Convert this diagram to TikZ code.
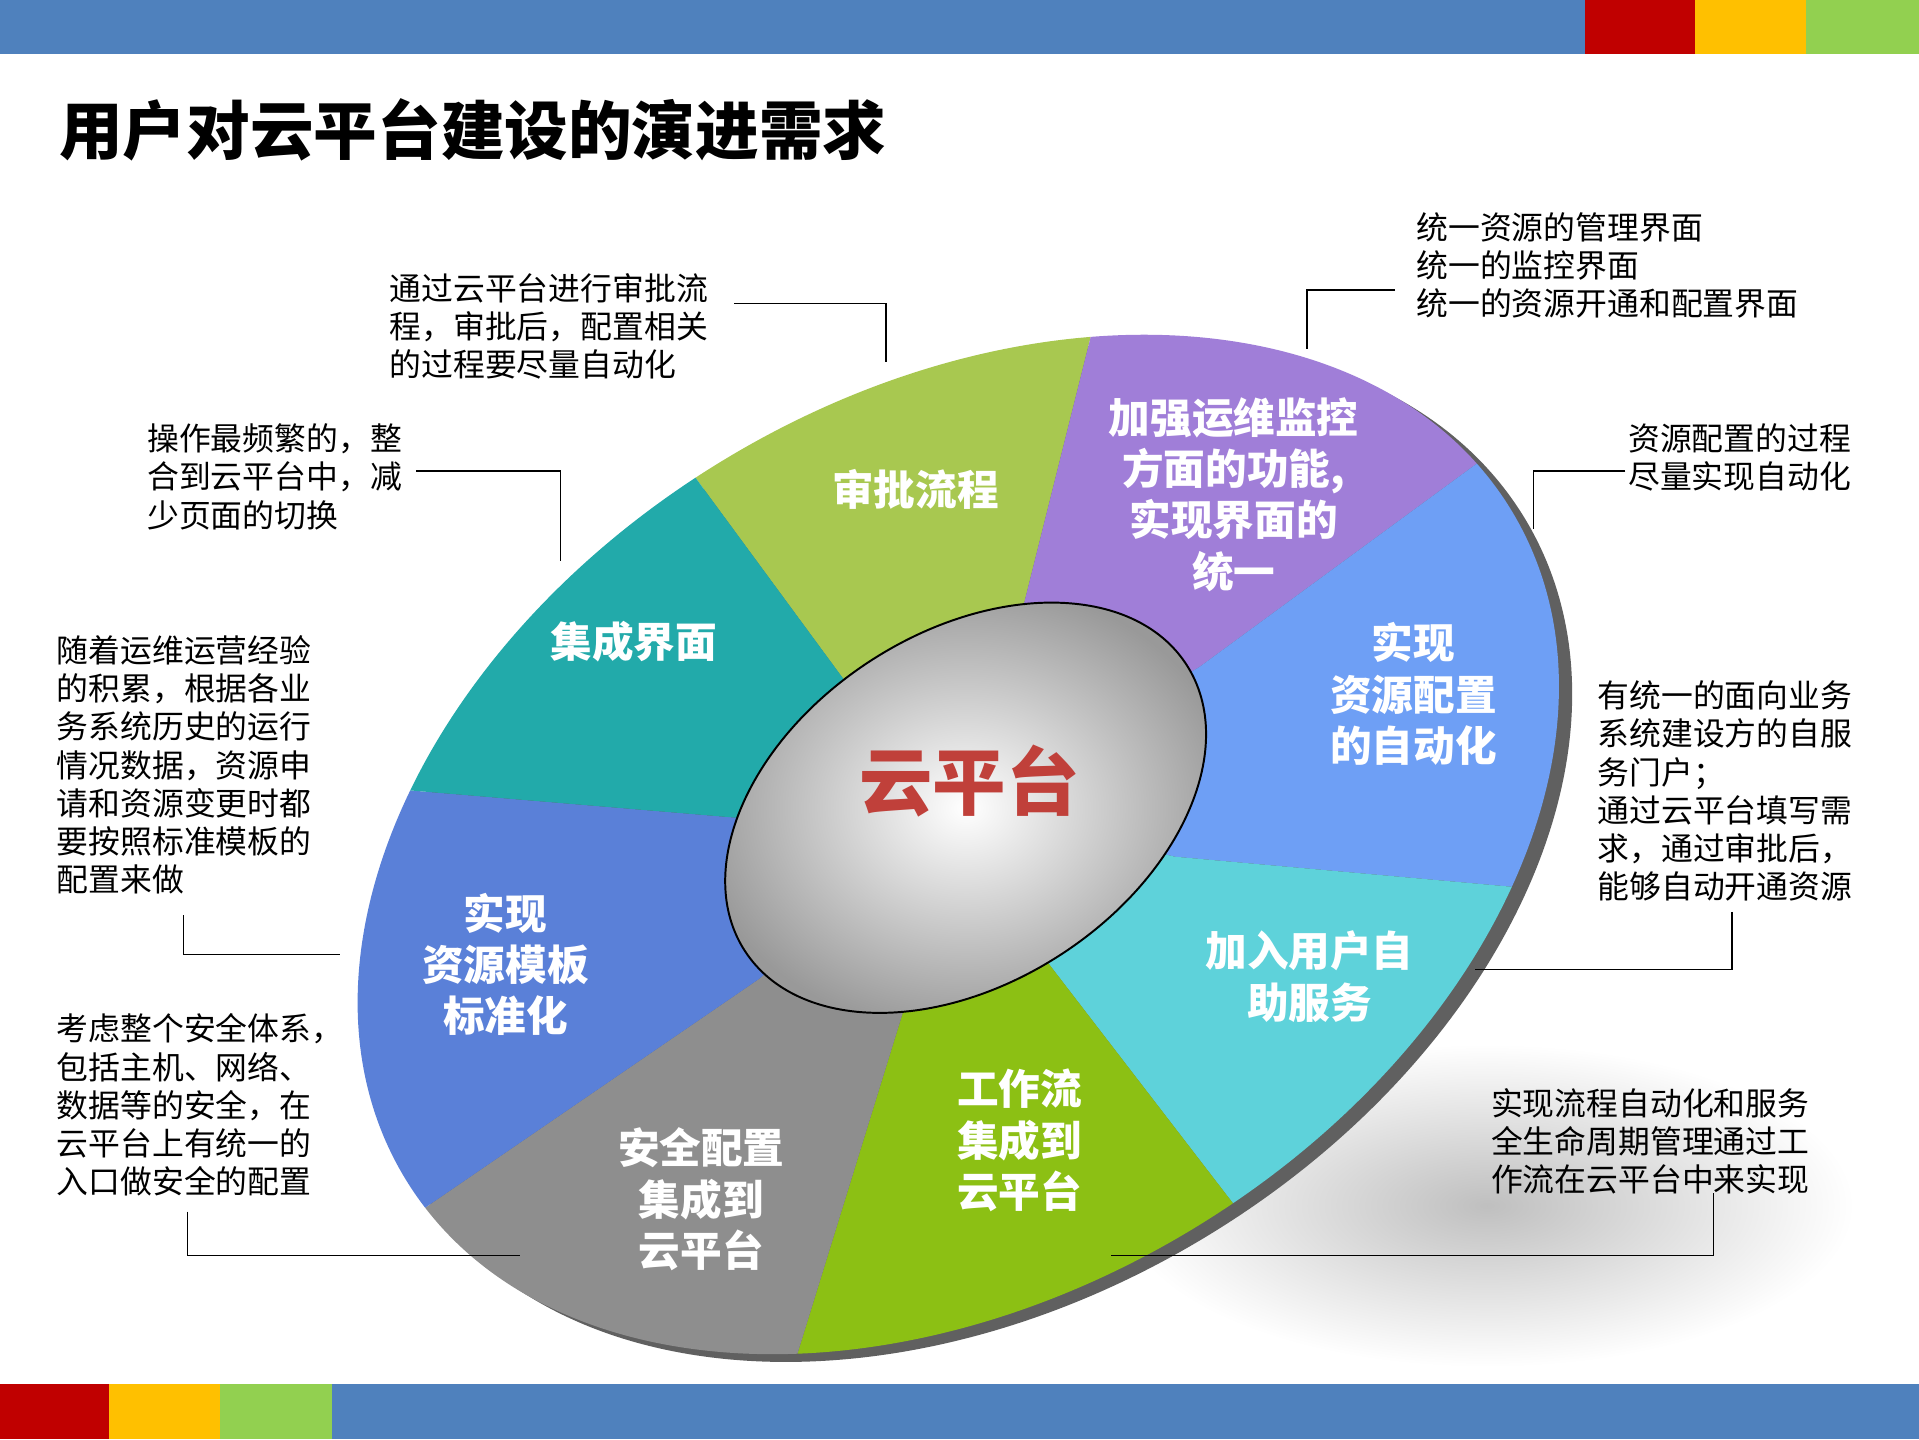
\documentclass[tikz,border=0pt]{standalone}
\usepackage{fontspec}
\setmainfont{Noto Sans CJK SC}
\usetikzlibrary{calc}
\definecolor{barblue}{HTML}{4F81BD}
\definecolor{barred}{HTML}{C00000}
\definecolor{baryel}{HTML}{FFC000}
\definecolor{bargreen}{HTML}{92D050}
\definecolor{cA}{HTML}{A8C850}
\definecolor{cB}{HTML}{A07ED8}
\definecolor{cC}{HTML}{6E9FF5}
\definecolor{cD}{HTML}{5ED2DA}
\definecolor{cE}{HTML}{8CC014}
\definecolor{cF}{HTML}{8E8E8E}
\definecolor{cG}{HTML}{5A80D8}
\definecolor{cH}{HTML}{22AAAA}
\definecolor{yun}{HTML}{C0403A}
\begin{document}
\begin{tikzpicture}[x=0.5pt,y=-0.5pt,
  captext/.style={anchor=north west,inner sep=0pt,align=left,font=\fontsize{13pt}{15.6pt}\selectfont},
  seg/.style={align=center,text=white,inner sep=0pt,font=\bfseries\fontsize{17pt}{21pt}\selectfont},
  lead/.style={draw=black,line width=0.6pt}]
\useasboundingbox (0,0) rectangle (1568,1176);
\fill[white] (0,0) rectangle (1568,1176);
% bars
\fill[barblue] (0,0) rectangle (1295,44);
\fill[barred] (1295,0) rectangle (1385,44);
\fill[baryel] (1385,0) rectangle (1476,44);
\fill[bargreen] (1476,0) rectangle (1568,44);
\fill[barred] (0,1131) rectangle (89,1176);
\fill[baryel] (89,1131) rectangle (180,1176);
\fill[bargreen] (180,1131) rectangle (271,1176);
\fill[barblue] (271,1131) rectangle (1568,1176);
\node[anchor=west,inner sep=0pt,font=\bfseries\fontsize{26pt}{30pt}\selectfont] (title) at (48,106) {用户对云平台建设的演进需求};
% shadow
\shade[inner color=gray!50,outer color=white] (1215,985) ellipse [x radius=150pt,y radius=66pt];
% extrusion
\coordinate (c) at (783,690);
\fill[gray!75!black,rotate around={31:($(c)+(6,11)$)}] ($(c)+(6,11)$) ellipse [x radius=264pt,y radius=184pt];
% wedges
\coordinate (ic) at (789,660);
\coordinate (i1) at (835,500); \coordinate (o1) at (890,280);
\coordinate (i2) at (980,545); \coordinate (o2) at (1205,380);
\coordinate (i3) at (960,700); \coordinate (o3) at (1240,725);
\coordinate (i4) at (855,785); \coordinate (o4) at (1005,980);
\coordinate (i5) at (740,820); \coordinate (o5) at (655,1095);
\coordinate (i6) at (620,800); \coordinate (o6) at (350,985);
\coordinate (i7) at (600,668); \coordinate (o7) at (325,645);
\coordinate (i8) at (693,560); \coordinate (o8) at (568,390);
\begin{scope}
\clip[rotate around={31:(c)}] (c) ellipse [x radius=264pt,y radius=184pt];
\foreach \a/\b/\col in {8/1/cA,1/2/cB,2/3/cC,3/4/cD,4/5/cE,5/6/cF,6/7/cG,7/8/cH}{
  \fill[\col] (ic) -- (i\a) -- ($(i\a)!4!(o\a)$) -- ($(i\b)!4!(o\b)$) -- (i\b) -- cycle;
}
\end{scope}
% inner ellipse
\coordinate (ci) at (789,660);
\shade[inner color=white,outer color=gray!80,rotate around={33:(ci)}] (ci) ellipse [x radius=107.5pt,y radius=71.5pt];
\draw[black,line width=0.8pt,rotate around={33:(ci)}] (ci) ellipse [x radius=107.5pt,y radius=71.5pt];
\node[text=yun,font=\bfseries\fontsize{30pt}{34pt}\selectfont,inner sep=0pt] (yun) at (792,638) {云平台};
% segment labels
\node[seg] (sA) at (748,400) {审批流程};
\node[seg] (sB) at (1008,404) {加强运维监控\\方面的功能,\\实现界面的\\统一};
\node[seg] (sC) at (1155,567) {实现\\资源配置\\的自动化};
\node[seg] (sD) at (1070,798) {加入用户自\\助服务};
\node[seg] (sE) at (833,932) {工作流\\集成到\\云平台};
\node[seg] (sF) at (573,980) {安全配置\\集成到\\云平台};
\node[seg] (sG) at (413,788) {实现\\资源模板\\标准化};
\node[seg] (sH) at (518,524) {集成界面};
% captions
\node[captext] (tA) at (318,223) {通过云平台进行审批流\\程，审批后，配置相关\\的过程要尽量自动化};
\node[captext] (tB) at (1157,173) {统一资源的管理界面\\统一的监控界面\\统一的资源开通和配置界面};
\node[captext] (tC) at (120,346) {操作最频繁的，整\\合到云平台中，减\\少页面的切换};
\node[captext] (tD) at (1330,346) {资源配置的过程\\尽量实现自动化};
\node[captext] (tE) at (46,519) {随着运维运营经验\\的积累，根据各业\\务系统历史的运行\\情况数据，资源申\\请和资源变更时都\\要按照标准模板的\\配置来做};
\node[captext] (tF) at (1305,556) {有统一的面向业务\\系统建设方的自服\\务门户；\\通过云平台填写需\\求，通过审批后，\\能够自动开通资源};
\node[captext] (tG) at (46,828) {考虑整个安全体系，\\包括主机、网络、\\数据等的安全，在\\云平台上有统一的\\入口做安全的配置};
\node[captext] (tH) at (1218,889) {实现流程自动化和服务\\全生命周期管理通过工\\作流在云平台中来实现};
% leaders
\coordinate (a1) at (600,248); \coordinate (a2) at (724,296);
\draw[lead] (a1) -| (a2);
\coordinate (b1) at (1140,237); \coordinate (b2) at (1068,285);
\draw[lead] (b1) -| (b2);
\coordinate (c1) at (340,385); \coordinate (c2) at (458,458);
\draw[lead] (c1) -| (c2);
\coordinate (d1) at (1328,385); \coordinate (d2) at (1253,432);
\draw[lead] (d1) -| (d2);
\coordinate (e1) at (150,748); \coordinate (e2) at (278,780);
\draw[lead] (e1) |- (e2);
\coordinate (f1) at (1415,745); \coordinate (f2) at (1205,792);
\draw[lead] (f1) |- (f2);
\coordinate (g1) at (153,990); \coordinate (g2) at (425,1026);
\draw[lead] (g1) |- (g2);
\coordinate (h1) at (1400,975); \coordinate (h2) at (908,1026);
\draw[lead] (h1) |- (h2);
\end{tikzpicture}
\end{document}
